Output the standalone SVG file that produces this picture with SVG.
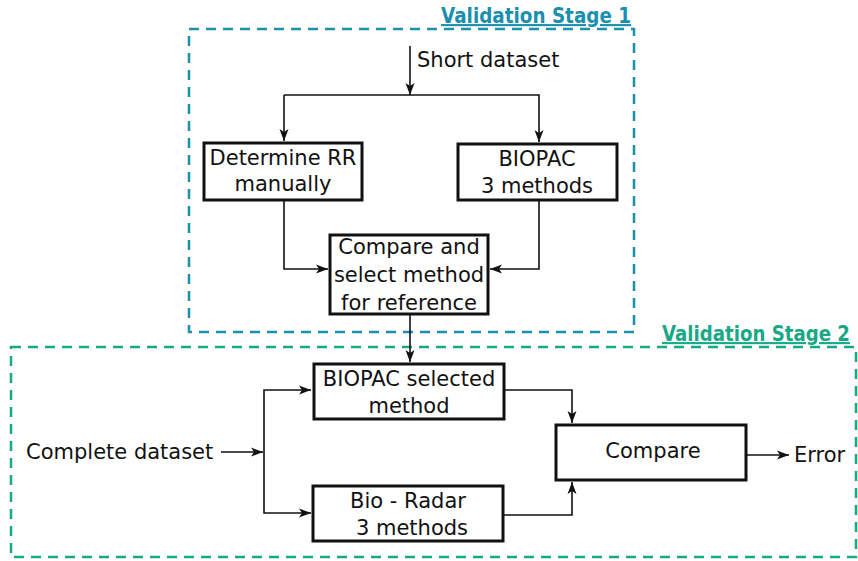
<svg xmlns="http://www.w3.org/2000/svg" width="858" height="561" viewBox="0 0 858 561">
<style>
text{font-family:"DejaVu Sans",Verdana,sans-serif;font-size:21px;fill:#111}
.t{text-anchor:middle}
.box{fill:#fff;stroke:#111;stroke-width:3}
.ln{fill:none;stroke:#111;stroke-width:1.6}
.title{font-weight:bold;font-size:21px;text-decoration:underline}
</style>
<defs>
<marker id="ar" viewBox="0 0 12 10" refX="12" refY="5" markerWidth="12" markerHeight="10" markerUnits="userSpaceOnUse" orient="auto"><path d="M0,0.5 L12,5 L0,9.5 L3,5 z" fill="#111"/></marker>
</defs>
<rect width="858" height="561" fill="#fff"/>
<g id="stage1">
<rect x="189" y="29" width="445" height="303" fill="none" stroke="#1a8fae" stroke-width="2.5" stroke-dasharray="10,7"/>
<text class="title" x="0" y="0" transform="translate(441,23) scale(0.875,1)" style="fill:#1a8fae">Validation Stage 1</text>
</g>
<g id="stage2">
<rect x="11" y="347" width="845" height="210" fill="none" stroke="#17a985" stroke-width="2.5" stroke-dasharray="10,7"/>
<text class="title" x="0" y="0" transform="translate(662,341) scale(0.865,1)" style="fill:#17a985">Validation Stage 2</text>
</g>
<g id="connectors">
<path class="ln" d="M410,46 V95" marker-end="url(#ar)"/>
<path class="ln" d="M284,95 H539 V142" marker-end="url(#ar)"/>
<path class="ln" d="M284,95 V141" marker-end="url(#ar)"/>
<path class="ln" d="M284,200 V269 H328" marker-end="url(#ar)"/>
<path class="ln" d="M539,200 V269 H490" marker-end="url(#ar)"/>
<path class="ln" d="M410,314 V362" marker-end="url(#ar)"/>
<path class="ln" d="M221,452 H263" marker-end="url(#ar)"/>
<path class="ln" d="M264,452 V513 H311" marker-end="url(#ar)"/>
<path class="ln" d="M264,452 V390 H311" marker-end="url(#ar)"/>
<path class="ln" d="M504,390 H572 V423" marker-end="url(#ar)"/>
<path class="ln" d="M503,515 H572 V482" marker-end="url(#ar)"/>
<path class="ln" d="M747,455 H789" marker-end="url(#ar)"/>
</g>
<g id="short"><text x="417" y="67">Short dataset</text></g>
<g id="manual">
<rect class="box" x="204" y="143" width="158" height="57"/>
<text class="t" x="283" y="165">Determine RR</text>
<text class="t" x="283" y="191">manually</text>
</g>
<g id="biopac3">
<rect class="box" x="458" y="144" width="159" height="56"/>
<text class="t" x="537" y="166">BIOPAC</text>
<text class="t" x="537" y="193">3 methods</text>
</g>
<g id="select">
<rect class="box" x="330" y="235" width="158" height="79"/>
<text class="t" x="409" y="254">Compare and</text>
<text class="t" x="409" y="282">select method</text>
<text class="t" x="409" y="310">for reference</text>
</g>
<g id="biopacsel">
<rect class="box" x="314" y="364" width="190" height="55"/>
<text class="t" x="409" y="386">BIOPAC selected</text>
<text class="t" x="409" y="413">method</text>
</g>
<g id="radar">
<rect class="box" x="313" y="486" width="190" height="55"/>
<text class="t" x="408" y="508">Bio - Radar</text>
<text class="t" x="412" y="535">3 methods</text>
</g>
<g id="compare">
<rect class="box" x="556" y="425" width="190" height="55"/>
<text class="t" x="653" y="458">Compare</text>
</g>
<g id="complete"><text x="26" y="459">Complete dataset</text></g>
<g id="error"><text x="794" y="462">Error</text></g>
</svg>
